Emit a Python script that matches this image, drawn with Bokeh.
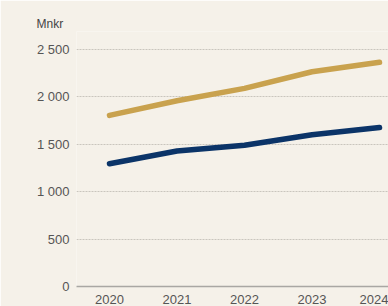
from bokeh.plotting import figure
from bokeh.models import FixedTicker, Title
from bokeh.embed import file_html
from bokeh.resources import INLINE

years = [2020, 2021, 2022, 2023, 2024]
gold_series = [1805, 1960, 2090, 2265, 2365]
navy_series = [1295, 1430, 1490, 1600, 1678]
y_ticks = [0, 500, 1000, 1500, 2000, 2500]
y_tick_labels = ["0", "500", "1 000", "1 500", "2 000", "2 500"]
x_tick_labels = ["2020", "2021", "2022", "2023", "2024"]
unit_label = "Mnkr"

BG = "#f5f1e9"
FONT = "Liberation Sans"

p = figure(width=388, height=306, output_backend="svg", toolbar_location=None,
           x_range=(2019.511, 2024.133), y_range=(0, 2690),
           min_border_left=76, min_border_right=0, min_border_top=31, min_border_bottom=0)
p.background_fill_color = BG
p.border_fill_color = BG
p.outline_line_color = None

t = Title(text=unit_label, align="left", offset=-40, text_font=FONT,
          text_font_size="12px", text_color="#444444", text_font_style="normal",
          vertical_align="bottom", standoff=2)
p.add_layout(t, "above")

p.line(years, gold_series, line_color="#c9a24e", line_width=5.5, line_cap="round", line_join="round")
p.line(years, navy_series, line_color="#0b3468", line_width=5.5, line_cap="round", line_join="round")

p.yaxis.ticker = FixedTicker(ticks=y_ticks)
p.yaxis.major_label_overrides = {t_: l for t_, l in zip(y_ticks, y_tick_labels)}
p.yaxis.axis_line_color = None
p.yaxis.major_tick_line_color = None
p.yaxis.minor_tick_line_color = None
p.yaxis.major_label_standoff = 1
p.yaxis.major_label_text_font = FONT
p.yaxis.major_label_text_font_size = "13px"
p.yaxis.major_label_text_color = "#555555"

p.xaxis.ticker = FixedTicker(ticks=years)
p.xaxis.major_label_overrides = {y: l for y, l in zip(years, x_tick_labels)}
p.xaxis.axis_line_color = "#a9a7a3"
p.xaxis.axis_line_width = 1.5
p.xaxis.major_tick_line_color = None
p.xaxis.minor_tick_line_color = None
p.xaxis.major_label_standoff = 2
p.xaxis.major_label_text_font = FONT
p.xaxis.major_label_text_font_size = "13px"
p.xaxis.major_label_text_color = "#555555"

p.xgrid.grid_line_color = None
p.ygrid.grid_line_color = "#c9c5bd"
p.ygrid.grid_line_dash = "2 1"
p.ygrid.grid_line_width = 1

open("out.html", "w").write(file_html(p, INLINE))
